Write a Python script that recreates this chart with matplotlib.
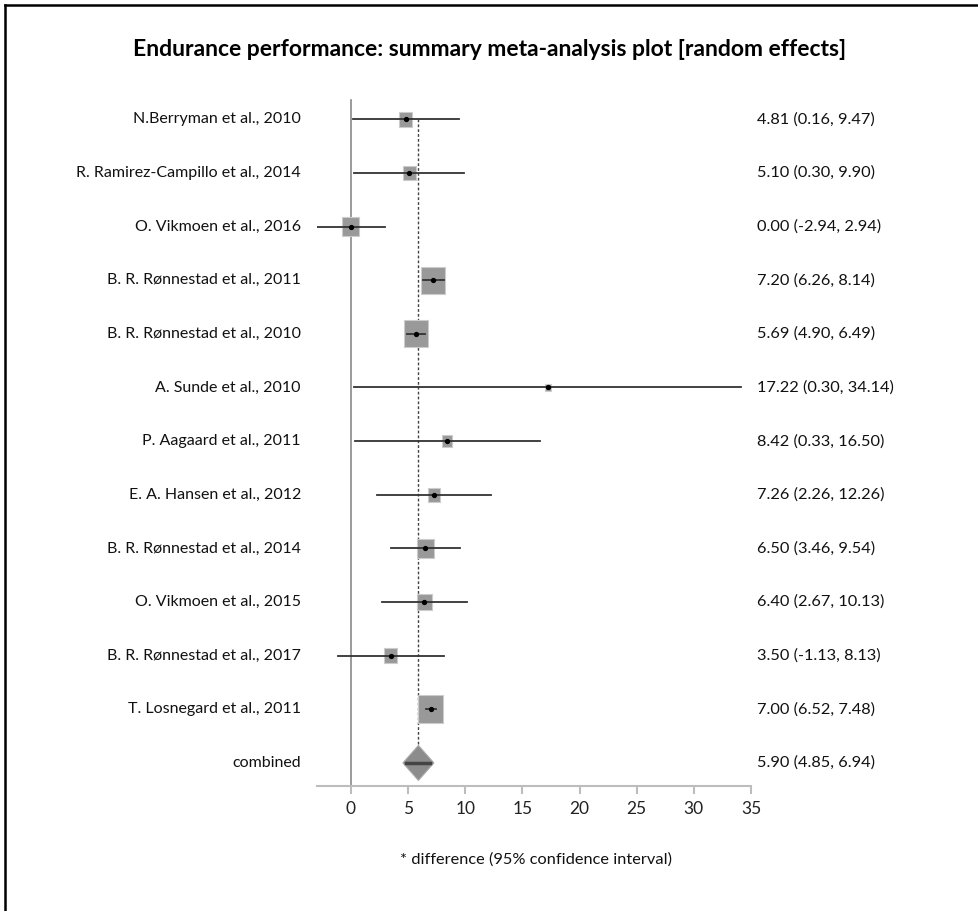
import matplotlib
matplotlib.use("Agg")
import matplotlib.pyplot as plt
from matplotlib.patches import Rectangle, Polygon
from matplotlib.lines import Line2D
import matplotlib.transforms as mtransforms

plt.rcParams['font.family'] = ['Lato', 'DejaVu Sans']

# study data
studies = ["N.Berryman et al., 2010", "R. Ramirez-Campillo et al., 2014",
           "O. Vikmoen et al., 2016", "B. R. Rønnestad et al., 2011",
           "B. R. Rønnestad et al., 2010", "A. Sunde et al., 2010",
           "P. Aagaard et al., 2011", "E. A. Hansen et al., 2012",
           "B. R. Rønnestad et al., 2014", "O. Vikmoen et al., 2015",
           "B. R. Rønnestad et al., 2017", "T. Losnegard et al., 2011"]
effect = [4.81, 5.10, 0.00, 7.20, 5.69, 17.22, 8.42, 7.26, 6.50, 6.40, 3.50, 7.00]
lower = [0.16, 0.30, -2.94, 6.26, 4.90, 0.30, 0.33, 2.26, 3.46, 2.67, -1.13, 6.52]
upper = [9.47, 9.90, 2.94, 8.14, 6.49, 34.14, 16.50, 12.26, 9.54, 10.13, 8.13, 7.48]

combined_label = "combined"
combined = 5.90
combined_lo = 4.85
combined_hi = 6.94

# box widths in pixels (study weight)
box_px = [13, 13, 17, 24, 24, 6, 10, 12, 17, 15, 13, 25]

W, H = 979, 911
fig = plt.figure(figsize=(W / 100, H / 100), dpi=100)

# axes placement (pixel based)
ax_left, ax_right, ax_top, ax_bot = 316.7, 751, 100, 786
ax = fig.add_axes([ax_left / W, 1 - ax_bot / H, (ax_right - ax_left) / W, (ax_bot - ax_top) / H])
ax.set_xlim(-3, 35)
n = len(studies)
ax.set_ylim(n + 0.43, -0.36)

px_per_x = (ax_right - ax_left) / 38.0
px_per_row = 53.67

# zero line as left spine
for s in ['top', 'right']:
    ax.spines[s].set_visible(False)
ax.spines['left'].set_position(('data', 0))
ax.spines['left'].set_color('#8a8a8a')
ax.spines['left'].set_linewidth(1.2)
ax.spines['bottom'].set_color('#bdbdbd')
ax.spines['bottom'].set_linewidth(1.5)
ax.set_yticks([])
ax.set_xticks(range(0, 36, 5))
ax.tick_params(axis='x', colors='#bdbdbd', length=6, width=1.5, labelcolor='#222222',
               labelsize=12.5, pad=5)

# dashed line at combined effect
ax.plot([combined, combined], [0, n - 0.32], color='#444444', lw=1.0, ls=(0, (2, 1.5)), zorder=1)

for i in range(n):
    w = box_px[i] / px_per_x
    h = box_px[i] * 1.13 / px_per_row
    ax.add_patch(Rectangle((effect[i] - w / 2, i - h / 2), w, h, facecolor='#999999',
                           edgecolor='#cccccc', lw=0.8, zorder=3))
    ax.plot([lower[i], upper[i]], [i, i], color='#333333', lw=1.3, zorder=4)
    ax.plot(effect[i], i, 'o', color='black', ms=2.8, zorder=5)

# combined diamond
dw = 31 / 2 / px_per_x
dh = 35 / 2 / px_per_row
ax.add_patch(Polygon([(combined - dw, n), (combined, n - dh), (combined + dw, n), (combined, n + dh)],
                     closed=True, facecolor='#8c8c8c', edgecolor='#aaaaaa', lw=0.8, zorder=3))
ax.plot([combined_lo, combined_hi], [n, n], color='#444444', lw=2.5, zorder=4)

# labels on both sides
trans = mtransforms.blended_transform_factory(fig.transFigure, ax.transData)
all_labels = studies + [combined_label]
all_vals = [f"{effect[i]:.2f} ({lower[i]:.2f}, {upper[i]:.2f})" for i in range(n)]
all_vals.append(f"{combined:.2f} ({combined_lo:.2f}, {combined_hi:.2f})")
for i, (lab, val) in enumerate(zip(all_labels, all_vals)):
    fig.text(301 / W, i, lab, transform=trans, ha='right', va='center', fontsize=11.5, color='#111111')
    fig.text(757 / W, i, val, transform=trans, ha='left', va='center', fontsize=11.8, color='#111111')

fig.text(490 / W, 1 - 50 / H, "Endurance performance: summary meta-analysis plot [random effects]",
         ha='center', va='center', fontsize=16.5, fontweight='bold', color='black')
fig.text(536 / W, 1 - 860 / H, "* difference (95% confidence interval)",
         ha='center', va='center', fontsize=11.8, color='#111111')

# border of the original picture (top and left edges)
fig.add_artist(Line2D([5 / W, 1], [1 - 5 / H, 1 - 5 / H], color='black', lw=1.8))
fig.add_artist(Line2D([5 / W, 5 / W], [0, 1 - 5 / H], color='black', lw=1.8))

fig.savefig("out.png", dpi=100)
